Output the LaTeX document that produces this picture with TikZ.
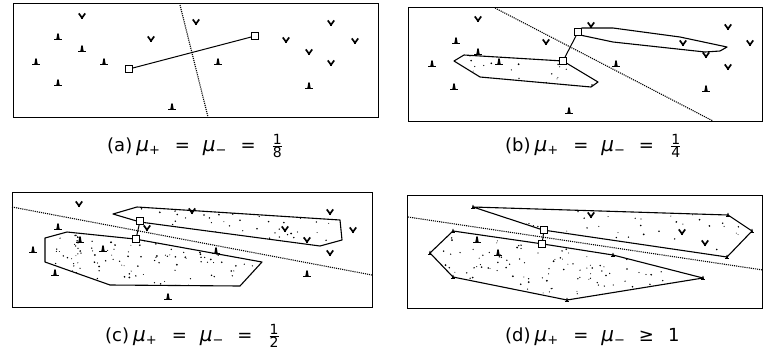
\documentclass[tikz,border=0pt]{standalone}
\usepackage{amsmath}
\usepackage{fontspec}
\setmainfont{DejaVu Sans}
\newcommand\speckle[5]{%
  \foreach \i in {1,...,#5}{%
    \pgfmathsetmacro\rx{#1+rnd*(#3-#1)}%
    \pgfmathsetmacro\ry{#2+rnd*(#4-#2)}%
    \pgfmathsetmacro\rr{0.45+0.55*rnd}%
    \fill (\rx,\ry) circle (\rr);}}
\newcommand\mulab[1]{{\fontsize{20}{20}\selectfont\textit{μ}}\raisebox{-3pt}{\fontsize{13}{13}\selectfont #1}}
\newcommand\smfr[2]{$\genfrac{}{}{0.6pt}{1}{\hbox{\fontsize{14}{14}\selectfont #1}}{\hbox{\fontsize{14}{14}\selectfont #2}}$}
\tikzset{
  neg/.pic={\draw[line width=1.7pt, line join=miter] (-3.2,-2.6) -- (0,1.8) -- (3.2,-2.6); \draw[line width=1.2pt] (0,0.5) -- (0,3);},
  pos/.pic={\draw[line width=1.6pt] (-3.6,2.6) -- (3.6,2.6); \fill (-1.8,2.6) -- (-0.6,-3.6) -- (0.6,-3.6) -- (1.8,2.6) -- cycle;}
}
\begin{document}
\begin{tikzpicture}[x=1pt,y=-1pt,
  frame/.style={draw, line width=0.9pt},
  sep/.style={densely dotted, line width=1.1pt},
  hull/.style={draw, line width=1.1pt, line join=round},
  sq/.style={draw, fill=white, line width=0.8pt, minimum size=7pt, inner sep=0pt},
  link/.style={line width=1pt},
  lab/.style={font=\fontsize{18}{20}\selectfont, anchor=base west, inner sep=0pt}]
\useasboundingbox (0,0) rectangle (765,354);
\pgfmathsetseed{7}

% ---------- panel (a)
\draw[frame] (13,3) rectangle (378,117);
\foreach \p in {(82,16),(196,22),(151,39),(331,23),(286,40),(355,41),(309,52),(331,63)} \pic at \p {neg};
\foreach \p in {(58,37),(82,49),(36,62),(104,62),(58,83),(172,107),(218,62),(309,86)} \pic at \p {pos};
\coordinate (sa1) at (180,5); \coordinate (sa2) at (208,117);
\draw[sep] (sa1) -- (sa2);
\node[sq] (a1) at (129,69) {};
\node[sq] (a2) at (255,36) {};
\draw[link] (a1) -- (a2);
\node[lab] (la) at (107,151) {(a)\hspace{4pt}\mulab{+}\hspace{15pt}=\hspace{13pt}\mulab{−}\hspace{14pt}=\hspace{16pt}\smfr{1}{8}};

% ---------- panel (b)
\draw[frame] (408,7) rectangle (762,121);
\begin{scope}
  \clip (454,61) -- (464,55) -- (563,61) -- (598,82) -- (591,87) -- (480,77) -- cycle;
  \speckle{454}{52}{598}{87}{40}
\end{scope}
\draw[hull] (454,61) -- (464,55) -- (563,61) -- (598,82) -- (591,87) -- (480,77) -- cycle;
\draw[hull] (575,32) -- (582,28) -- (613,28) -- (680,37) -- (727,47) -- (720,51) -- (705,52) -- (613,42) -- (580,35) -- cycle;
\coordinate (sb1) at (495,8); \coordinate (sb2) at (713,121);
\draw[sep] (sb1) -- (sb2);
\foreach \p in {(478,19),(546,42),(728,27),(750,43),(683,43),(706,55),(728,67),(591,25)} \pic at \p {neg};
\foreach \p in {(456,41),(432,64),(478,52),(499,62),(454,87),(569,111),(616,64),(706,89)} \pic at \p {pos};
\node[sq] (b1) at (578,32) {};
\node[sq] (b2) at (563,61) {};
\draw[link] (b1) -- (b2);
\node[lab] (lb) at (505,151) {(b)\hspace{4pt}\mulab{+}\hspace{15pt}=\hspace{13pt}\mulab{−}\hspace{14pt}=\hspace{16pt}\smfr{1}{4}};

% ---------- panel (c)
\draw[frame] (12,192) rectangle (372,307);
\coordinate (sc1) at (12,207); \coordinate (sc2) at (372,275);
\begin{scope}
  \clip (113,214) -- (137,207) -- (340,220) -- (342,240) -- (320,246) -- (140,222) -- cycle;
  \speckle{113}{207}{342}{246}{80}
\end{scope}
\begin{scope}
  \clip (45,238) -- (67,232) -- (135,239) -- (262,262) -- (240,286) -- (110,285) -- (45,262) -- cycle;
  \speckle{45}{232}{262}{286}{150}
\end{scope}
\draw[hull] (113,214) -- (137,207) -- (340,220) -- (342,240) -- (320,246) -- (140,222) -- cycle;
\draw[hull] (45,238) -- (67,232) -- (135,239) -- (262,262) -- (240,286) -- (110,285) -- (45,262) -- cycle;
\draw[sep] (sc1) -- (sc2);
\foreach \p in {(79,204),(192,211),(330,212),(353,230),(147,228),(285,229),(307,240),(330,253)} \pic at \p {neg};
\foreach \p in {(58,227),(33,250),(80,240),(103,249),(216,251),(55,273),(307,274),(168,297)} \pic at \p {pos};
\node[sq] (c1) at (140,221) {};
\node[sq] (c2) at (136,239) {};
\draw[link] (c1) -- (c2);
\node[lab] (lc) at (105,341) {(c)\hspace{4pt}\mulab{+}\hspace{15pt}=\hspace{13pt}\mulab{−}\hspace{14pt}=\hspace{16pt}\smfr{1}{2}};

% ---------- panel (d)
\draw[frame] (407,195) rectangle (762,308);
\coordinate (sd1) at (408,217); \coordinate (sd2) at (763,270);
\begin{scope}
  \clip (473,207) -- (728,215) -- (752,231) -- (727,257) -- (543,230) -- cycle;
  \speckle{473}{207}{752}{257}{60}
\end{scope}
\begin{scope}
  \clip (453,231) -- (543,244) -- (613,255) -- (703,278) -- (567,300) -- (453,277) -- (430,253) -- cycle;
  \speckle{430}{231}{703}{300}{190}
\end{scope}
\draw[hull] (473,207) -- (728,215) -- (752,231) -- (727,257) -- (543,230) -- cycle;
\draw[hull] (453,231) -- (543,244) -- (613,255) -- (703,278) -- (567,300) -- (453,277) -- (430,253) -- cycle;
\draw[sep] (sd1) -- (sd2);
\foreach \p in {(591,215),(682,232),(705,243)} \pic at \p {neg};
\foreach \p in {(477,240),(498,253)} \pic at \p {pos};
\foreach \p in {(453,231),(430,253),(453,277),(567,300),(703,278),(613,255),(728,215),(752,231),(727,257),(473,207)} \pic[scale=0.6] at \p {pos};
\node[sq] (d1) at (544,230) {};
\node[sq] (d2) at (542,244) {};
\draw[link] (d1) -- (d2);
\node[lab] (ld) at (505,341) {(d)\hspace{4pt}\mulab{+}\hspace{15pt}=\hspace{13pt}\mulab{−}\hspace{14pt}≥\hspace{14pt}1};
\end{tikzpicture}
\end{document}
